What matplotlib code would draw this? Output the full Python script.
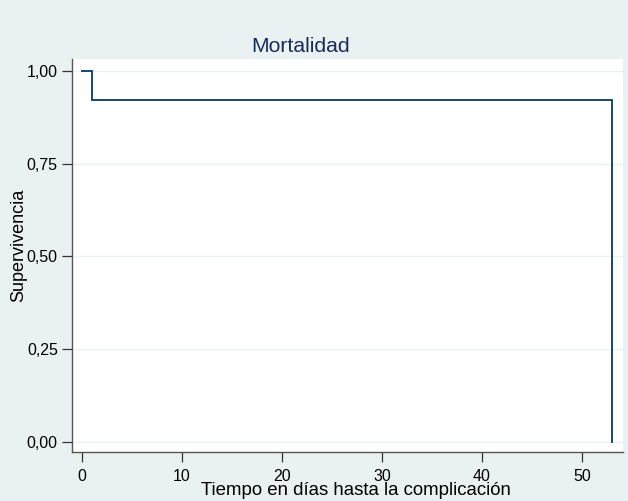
import matplotlib
matplotlib.use("Agg")
import matplotlib.pyplot as plt

times = [0, 1, 53]
surv = [1.0, 12/13, 0.0]
xticks = [0, 10, 20, 30, 40, 50]
yticks = [0.0, 0.25, 0.5, 0.75, 1.0]
ytick_labels = ["0,00", "0,25", "0,50", "0,75", "1,00"]

plt.rcParams['font.family'] = ['Liberation Sans', 'DejaVu Sans']
bg = "#eaf1f3"
fig = plt.figure(figsize=(6.28, 5.01), dpi=100, facecolor=bg)
ax = fig.add_axes([0.1142, 0.0978, 0.992 - 0.1142, 0.8816 - 0.0978])
ax.set_facecolor("white")

# step function
xs, ys = [times[0]], [surv[0]]
for i in range(1, len(times)):
    xs += [times[i], times[i]]
    ys += [surv[i-1], surv[i]]
ax.plot(xs, ys, color="#1a476f", lw=1.4, solid_joinstyle="miter")

ax.set_xlim(-1.03, 54.1)
ax.set_ylim(-0.028, 1.0316)
ax.set_xticks(xticks)
ax.set_yticks(yticks)
ax.set_yticklabels(ytick_labels)
for y in yticks:
    ax.axhline(y, color="#eaf2f3", lw=1.0, zorder=0)
for s in ["top", "right"]:
    ax.spines[s].set_visible(False)
for s in ["left", "bottom"]:
    ax.spines[s].set_color("#555555")
    ax.spines[s].set_linewidth(1.0)
ax.tick_params(axis="both", length=7, width=0.9, color="#333333", labelsize=11.5, labelcolor="black")
ax.tick_params(axis="x", pad=5)
ax.tick_params(axis="y", pad=3)
ax.set_xlabel("Tiempo en días hasta la complicación", fontsize=13.4, va="baseline")
ax.xaxis.set_label_coords(0.516, -0.1105)
ax.set_ylabel("Supervivencia", fontsize=13, va="center")
ax.yaxis.set_label_coords(-0.097, 0.527)
fig.text(0.4785, 0.8956, "Mortalidad", fontsize=15.2, color="#1a2d5a", ha="center", va="baseline")
fig.savefig("out.png", dpi=100, facecolor=bg)
